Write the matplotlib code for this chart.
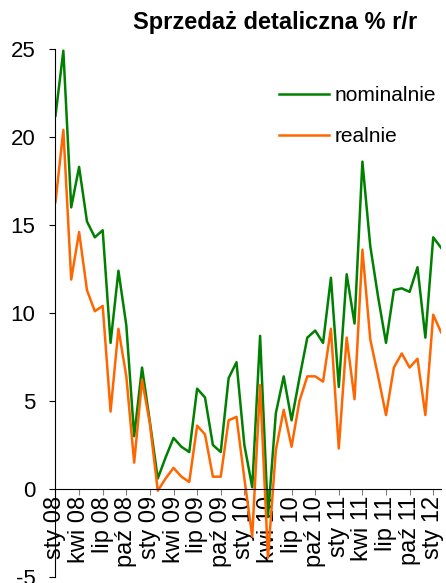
import numpy as np
import matplotlib.pyplot as plt

plt.rcParams['font.family'] = ['Liberation Sans', 'DejaVu Sans']
plt.rcParams['axes.unicode_minus'] = False

# miesiace: sty 08 .. lut 12
months = ['sty', 'lut', 'mar', 'kwi', 'maj', 'cze', 'lip', 'sie', 'wrz', 'paź', 'lis', 'gru']
years = ['08', '09', '10', '11', '12']
periods = [m + ' ' + y for y in years for m in months][:50]

nominalnie = [21.2, 24.9, 16.0, 18.3, 15.2, 14.3, 14.7, 8.3, 12.4, 9.3,
              3.0, 6.9, 3.8, 0.6, 1.8, 2.9, 2.4, 2.1, 5.7, 5.2,
              2.5, 2.1, 6.3, 7.2, 2.5, 0.1, 8.7, -1.6, 4.3, 6.4,
              3.9, 6.3, 8.6, 9.0, 8.3, 12.0, 5.8, 12.2, 9.4, 18.6,
              13.8, 10.9, 8.3, 11.3, 11.4, 11.2, 12.6, 8.6, 14.3, 13.7]
realnie = [16.3, 20.4, 11.9, 14.6, 11.3, 10.1, 10.4, 4.4, 9.1, 6.4,
           1.5, 6.2, 3.7, -0.1, 0.6, 1.2, 0.7, 0.4, 3.6, 3.1,
           0.7, 0.7, 3.9, 4.1, 0.6, -2.7, 5.9, -3.9, 2.2, 4.5,
           2.4, 5.0, 6.4, 6.4, 6.1, 9.1, 2.3, 8.6, 5.1, 13.6,
           8.5, 6.4, 4.2, 6.9, 7.7, 6.9, 7.4, 4.2, 9.9, 8.9]

x = np.arange(len(periods))

fig = plt.figure(figsize=(4.46, 5.83), dpi=100)
ax = fig.add_axes([0.1244, 0.0103, 0.8646, 0.9057])

ax.plot(x, nominalnie, color='#008000', lw=1.8, label='nominalnie')
ax.plot(x, realnie, color='#FF6600', lw=1.8, label='realnie')

ax.spines['bottom'].set_position(('data', 0))
ax.spines['top'].set_visible(False)
ax.spines['right'].set_visible(False)
ax.spines['left'].set_linewidth(0.8)
ax.spines['bottom'].set_linewidth(0.8)

ax.set_xlim(0, len(x) - 1)
ax.set_ylim(-5, 25)
ax.set_yticks(np.arange(-5, 26, 5))
ax.tick_params(axis='y', labelsize=16, direction='out', length=4, width=0.8, pad=10.5)

ax.set_xticks(x[::3])
ax.set_xticklabels(periods[::3])
ax.tick_params(axis='x', labelsize=17, labelrotation=90, direction='out', length=4,
               width=0.8, color='#808080', pad=1)

ax.legend(loc='upper left', bbox_to_anchor=(0.6256, 0.8525), bbox_transform=fig.transFigure,
          frameon=False, fontsize=15, handlelength=2.4, handletextpad=0.25, labelspacing=1.05,
          borderaxespad=0, borderpad=0)

fig.text(0.617, 0.962, 'Sprzedaż detaliczna % r/r', ha='center', va='center',
         fontsize=17, fontweight='bold')

fig.savefig('out.png', dpi=100)
